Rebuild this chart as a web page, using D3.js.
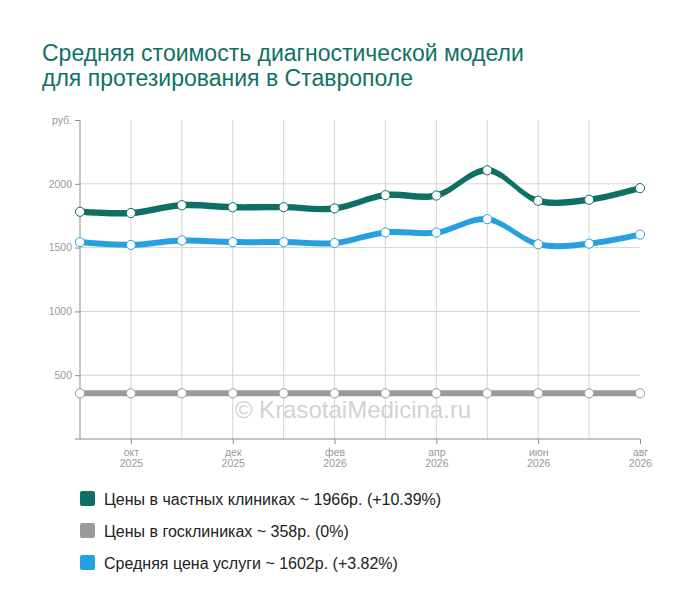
<!DOCTYPE html>
<html>
<head>
<meta charset="utf-8">
<script src="https://cdn.jsdelivr.net/npm/d3@7"></script>
<style>
  body { margin: 0; background: #fff; }
  svg { font-family: "Liberation Sans", Arial, sans-serif; }
</style>
</head>
<body>
<div id="chart"></div>
<script>
// chart data
var months = ["сен 2025", "окт 2025", "ноя 2025", "дек 2025", "янв 2026", "фев 2026",
              "мар 2026", "апр 2026", "май 2026", "июн 2026", "июл 2026", "авг 2026"];
var privatePrices = [1781, 1771, 1832, 1816, 1817, 1807, 1911, 1908, 2106, 1867, 1875, 1966];
var publicPrices = [358, 358, 358, 358, 358, 358, 358, 358, 358, 358, 358, 358];
var averagePrices = [1543, 1521, 1556, 1543, 1543, 1536, 1619, 1618, 1723, 1526, 1531, 1602];
var yTicks = [500, 1000, 1500, 2000];
var legendLabels = [
    "Цены в частных клиниках ~ 1966р. (+10.39%)",
    "Цены в госклиниках ~ 358р. (0%)",
    "Средняя цена услуги ~ 1602р. (+3.82%)"
];

var svgWidth = 700, svgHeight = 616;
var margin = { top: 120, left: 80, right: 60, bottom: 177 };
var width = svgWidth - margin.left - margin.right;
var height = svgHeight - margin.top - margin.bottom;

var svg = d3.select("#chart").append("svg")
    .attr("width", svgWidth)
    .attr("height", svgHeight);

// title
var title = svg.append("text")
    .attr("x", 42)
    .attr("y", 61)
    .attr("fill", "#0f7166")
    .style("font-size", "23px");
title.append("tspan").attr("x", 42).text("Средняя стоимость диагностической модели");
title.append("tspan").attr("x", 42).attr("dy", 25).text("для протезирования в Ставрополе");

var chartGroup = svg.append("g")
    .attr("transform", `translate(${margin.left}, ${margin.top})`);

// scales
var x = d3.scalePoint()
    .domain(months)
    .range([0, width]);
var y = d3.scaleLinear()
    .domain([0, 2500])
    .range([height, 0]);

// grid
chartGroup.append("g")
    .selectAll("line")
    .data(months.slice(1, -1))
    .enter().append("line")
    .attr("x1", d => x(d)).attr("x2", d => x(d))
    .attr("y1", 0).attr("y2", height)
    .attr("stroke", "#d4d4d4");
chartGroup.append("g")
    .selectAll("line")
    .data(yTicks)
    .enter().append("line")
    .attr("x1", 0).attr("x2", width)
    .attr("y1", d => y(d)).attr("y2", d => y(d))
    .attr("stroke", "#d4d4d4");

// watermark
chartGroup.append("text")
    .attr("x", width / 2 - 7)
    .attr("y", y(358) + 25)
    .attr("text-anchor", "middle")
    .attr("fill", "#d2d2d2")
    .style("font-size", "24px")
    .text("© KrasotaiMedicina.ru");

// y axis
var leftAxis = d3.axisLeft(y)
    .tickValues(yTicks.concat([2500]))
    .tickSize(5)
    .tickPadding(3)
    .tickFormat(d => d === 2500 ? "руб." : d);
var yAxis = chartGroup.append("g").call(leftAxis);
yAxis.select(".domain").attr("stroke", "#8c8c8c").attr("d", `M0,0V${height}`);
yAxis.selectAll(".tick line").attr("stroke", "#8c8c8c");
yAxis.selectAll(".tick text")
    .attr("fill", "#999")
    .style("font-size", "10.5px")
    .style("font-family", "Liberation Sans, Arial, sans-serif");

// x axis
var labeled = months.filter((d, i) => i % 2 === 1);
var bottomAxis = d3.axisBottom(x)
    .tickValues(labeled)
    .tickSize(5)
    .tickPadding(3)
    .tickFormat("");
var xAxis = chartGroup.append("g")
    .attr("transform", `translate(0, ${height})`)
    .call(bottomAxis);
xAxis.select(".domain").attr("stroke", "#8c8c8c").attr("d", `M-5,0H${width}`);
xAxis.selectAll(".tick line").attr("stroke", "#8c8c8c");
xAxis.selectAll(".tick").each(function (d) {
    var parts = d.split(" ");
    var t = d3.select(this).append("text")
        .attr("fill", "#999")
        .attr("text-anchor", "middle")
        .style("font-size", "10.5px")
        .style("font-family", "Liberation Sans, Arial, sans-serif");
    t.append("tspan").attr("x", 0).attr("y", 17).text(parts[0]);
    t.append("tspan").attr("x", 0).attr("y", 28).text(parts[1]);
});

// series
var series = [
    { values: publicPrices, color: "#9a9a9a", half: 3 },
    { values: averagePrices, color: "#27a0df", half: 3 },
    { values: privatePrices, color: "#0e7064", half: 3.2 }
];

var curve = d3.curveCatmullRom.alpha(0.5);

// each line is a band of constant vertical thickness
series.forEach(function (s) {
    var band = d3.area()
        .x((d, i) => x(months[i]))
        .y0(d => y(d) - s.half)
        .y1(d => y(d) + s.half)
        .curve(curve);
    chartGroup.append("path")
        .datum(s.values)
        .attr("d", band)
        .attr("fill", s.color);
});

series.forEach(function (s) {
    chartGroup.append("g")
        .selectAll("circle")
        .data(s.values)
        .enter().append("circle")
        .attr("cx", (d, i) => x(months[i]))
        .attr("cy", d => y(d))
        .attr("r", 4.6)
        .attr("fill", "#fff")
        .attr("stroke", s.color)
        .attr("stroke-width", 1);
});

// legend
var legendColors = ["#0e7064", "#9a9a9a", "#27a0df"];
var legend = svg.append("g")
    .attr("transform", "translate(80, 491)");
legendLabels.forEach(function (label, i) {
    var row = legend.append("g").attr("transform", `translate(0, ${i * 32})`);
    row.append("rect")
        .attr("width", 15).attr("height", 15)
        .attr("rx", 2)
        .attr("fill", legendColors[i]);
    row.append("text")
        .attr("x", 24)
        .attr("y", 13.5)
        .attr("fill", "#222")
        .style("font-size", "16px")
        .text(label);
});
</script>
</body>
</html>
